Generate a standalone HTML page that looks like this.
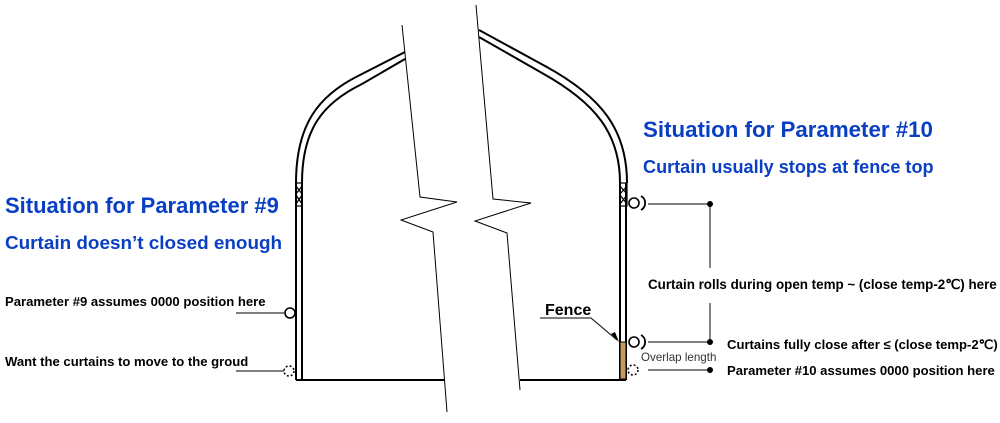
<!DOCTYPE html>
<html><head><meta charset="utf-8"><style>
html,body{margin:0;padding:0;background:#fff;}
svg{display:block;}
text{font-family:"Liberation Sans",Arial,sans-serif;font-weight:bold;}
</style></head><body>
<svg width="1000" height="423" viewBox="0 0 1000 423" xmlns="http://www.w3.org/2000/svg">
<g fill="none" stroke="#000" stroke-width="2">
<path d="M296,183 C296,125 318,96 358,76 L405,52"/>
<path d="M302,183 C302,129 323,103 362,84 L405,59"/>
<path d="M479,30 L545,66 C602,97 627,130 627,183"/>
<path d="M479,37 L542,73 C596,103 620,134 620,183"/>
<path d="M296,183 V380 M302,183 V380 M620,183 V380 M626,183 V380"/>
<path d="M296,380 H445 M520,380 H626"/>
</g>
<g stroke="#000" stroke-width="1.2" fill="none">
<rect x="296" y="183" width="6" height="23"/>
<path d="M296,186 L302,194 M302,186 L296,194 M296,195 L302,204 M302,195 L296,204"/>
<rect x="620" y="183" width="7" height="23"/>
<path d="M620,186 L627,194 M627,186 L620,194 M620,195 L627,204 M627,195 L620,204"/>
</g>
<rect x="620" y="342" width="6" height="37" fill="#c49a5c" stroke="#000" stroke-width="1"/>
<g fill="none" stroke="#000" stroke-width="1">
<path d="M402,25 L420,197 L457,202 L401,220 L433,232 L447,412"/>
<path d="M476,5 L493,199 L531,203 L475,221 L507,233 L520,390"/>
</g>
<g fill="#fff" stroke="#000" stroke-width="1.6">
<circle cx="290" cy="313" r="5"/>
<circle cx="634" cy="203" r="5"/>
<circle cx="634" cy="342" r="5"/>
</g>
<g fill="#fff" stroke="#000" stroke-width="1.5" stroke-dasharray="2,2">
<circle cx="289" cy="371" r="5"/>
<circle cx="633" cy="370" r="5"/>
</g>
<g fill="none" stroke="#000" stroke-width="1.8">
<path d="M641,196 A8,8 0 0 1 641,210"/>
<path d="M641,335 A8,8 0 0 1 641,349"/>
</g>
<g stroke="#333" stroke-width="1.2" fill="none">
<path d="M236,313 H285 M236,371 H284"/>
<path d="M648,204 H710 M648,342 H710 M648,370 H710"/>
<path d="M710,204 V268 M710,303 V342"/>
<path d="M540,318 H591 L617,340"/>
</g>
<path d="M619,342 L611,334 L615,332 Z" fill="#000"/>
<g fill="#000">
<circle cx="710" cy="204" r="3"/>
<circle cx="710" cy="342" r="3"/>
<circle cx="710" cy="370" r="3"/>
</g>
<g fill="#0a3fc4">
<text x="5" y="213" font-size="22">Situation for Parameter #9</text>
<text x="5" y="249" font-size="18.9">Curtain doesn’t closed enough</text>
<text x="643" y="137" font-size="22.3">Situation for Parameter #10</text>
<text x="643" y="173" font-size="18.1">Curtain usually stops at fence top</text>
</g>
<g fill="#000" font-size="13.1">
<text x="5" y="306">Parameter #9 assumes 0000 position here</text>
<text x="5" y="366">Want the curtains to move to the groud</text>
<text x="648" y="289" font-size="13.4">Curtain rolls during open temp ~ (close temp-2℃) here</text>
<text x="727" y="349">Curtains fully close after ≤ (close temp-2℃)</text>
<text x="727" y="375">Parameter #10 assumes 0000 position here</text>
<text x="545" y="315" font-size="16">Fence</text>
</g>
<text x="641" y="361" font-size="11.6" style="font-weight:normal" fill="#333">Overlap length</text>
</svg>
</body></html>
